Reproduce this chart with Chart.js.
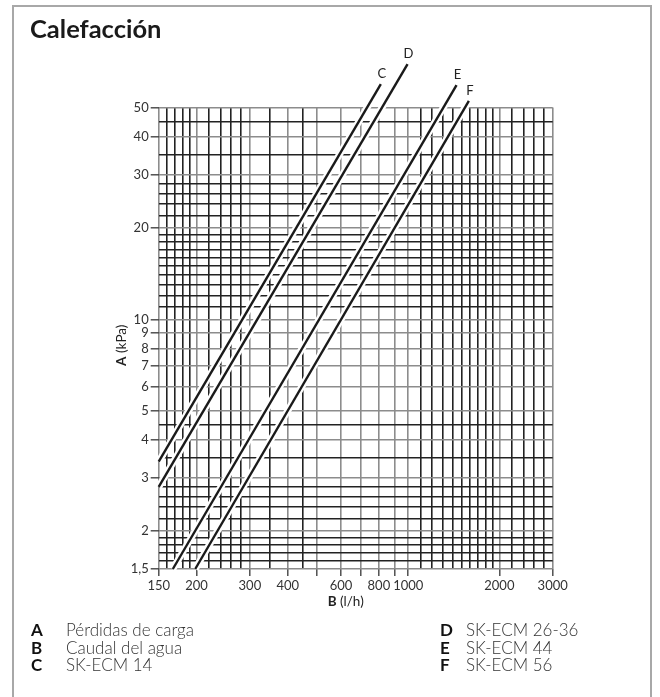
<!DOCTYPE html>
<html>
<head>
<meta charset="utf-8">
<script src="https://cdn.jsdelivr.net/npm/chart.js@4.4.1/dist/chart.umd.min.js"></script>
<style>
html, body { margin: 0; padding: 0; background: #fff; }
#wrap { position: relative; width: 660px; height: 697px; overflow: hidden; }
#frame { position: absolute; left: 12px; top: 5px; width: 640px; height: 740px; border: 2px solid #a8a8a8; box-sizing: border-box; }
#title { position: absolute; left: 30px; top: 13px; font: bold 25.5px Lato, sans-serif; color: #1a1a1a; }
#box { position: absolute; left: 0; top: 0; width: 660px; height: 697px; }
.key { position: absolute; font: bold 17px Lato, sans-serif; color: #111; }
.txt { position: absolute; font: 300 17px Lato, sans-serif; color: #333; }
</style>
</head>
<body>
<div id="wrap">
  <div id="frame"></div>
  <div id="box"><canvas id="chart"></canvas></div>
  <div id="title">Calefacción</div>
  <div id="legend"></div>
</div>
<script>
// caudal (l/h) y pérdida de carga (kPa) en los extremos de cada recta
const flowC = [150, 812]
const lossC = [3.39, 59.7]
const flowD = [150, 995]
const lossD = [2.80, 69.5]
const flowE = [167, 1444]
const lossE = [1.5, 59.3]
const flowF = [198, 1586]
const lossF = [1.5, 52.6]

const curves = [
    {name: 'C', flow: flowC, loss: lossC},
    {name: 'D', flow: flowD, loss: lossD},
    {name: 'E', flow: flowE, loss: lossE},
    {name: 'F', flow: flowF, loss: lossF}
]

const gridX = [150, 160, 170, 180, 190, 200, 220, 240, 260, 280, 300, 350, 400, 450, 500, 600, 700, 800, 900,
    1000, 1100, 1200, 1300, 1400, 1500, 1600, 1700, 1800, 1900, 2000, 2200, 2400, 2600, 2800, 3000]
const tickX = [150, 200, 300, 400, 500, 600, 700, 800, 900, 1000, 2000, 3000]
const labelX = [150, 200, 300, 400, 600, 800, 1000, 2000, 3000]

const gridY = [1.5, 1.6, 1.7, 1.8, 1.9, 2, 2.2, 2.4, 2.6, 2.8, 3, 3.5, 4, 4.5, 5, 6, 7, 8, 9,
    10, 11, 12, 13, 14, 15, 16, 17, 18, 19, 20, 22, 24, 26, 28, 30, 35, 40, 45, 50]
const labelY = [1.5, 2, 3, 4, 5, 6, 7, 8, 9, 10, 20, 30, 40, 50]
const labelYText = ['1,5', '2', '3', '4', '5', '6', '7', '8', '9', '10', '20', '30', '40', '50']

const legendKeys = ['A', 'B', 'C', 'D', 'E', 'F']
const legendTexts = ['Pérdidas de carga', 'Caudal del agua', 'SK-ECM 14', 'SK-ECM 26-36', 'SK-ECM 44', 'SK-ECM 56']

// leyenda en dos columnas
const legend = document.getElementById('legend')
legendKeys.forEach((k, i) => {
    const col = Math.floor(i / 3)
    const row = i % 3
    const top = 619 + row * 17.5
    const key = document.createElement('div')
    key.className = 'key'
    key.style.left = (col ? 440 : 31) + 'px'
    key.style.top = top + 'px'
    key.textContent = k
    const txt = document.createElement('div')
    txt.className = 'txt'
    txt.style.left = (col ? 466 : 66) + 'px'
    txt.style.top = top + 'px'
    txt.textContent = legendTexts[i]
    legend.appendChild(key)
    legend.appendChild(txt)
})

const gridColor = function (list) {
    return (c) => {
        if (!c.tick) return '#8c8c8c'
        return list.includes(c.tick.value) ? '#8c8c8c' : '#222'
    }
}

const annotations = {
    id: 'annotations',
    afterDraw(chart) {
        const {ctx, scales: {x, y}, chartArea} = chart
        ctx.save()
        ctx.fillStyle = '#222'
        ctx.font = '13px Lato'
        ctx.textAlign = 'center'
        ctx.textBaseline = 'middle'
        curves.forEach(c => {
            const n = c.flow.length - 1
            ctx.fillText(c.name, x.getPixelForValue(c.flow[n]) + 1, y.getPixelForValue(c.loss[n]) - 10)
        })

        // títulos de los ejes, letra en negrita
        const drawTitle = function (bold, rest, cx, cy) {
            ctx.font = 'bold 13.5px Lato'
            const w1 = ctx.measureText(bold).width
            ctx.font = '13.5px Lato'
            const w2 = ctx.measureText(rest).width
            let start = cx - (w1 + w2) / 2
            ctx.textAlign = 'left'
            ctx.font = 'bold 13.5px Lato'
            ctx.fillText(bold, start, cy)
            ctx.font = '13.5px Lato'
            ctx.fillText(rest, start + w1, cy)
        }
        drawTitle('B', ' (l/h)', (chartArea.left + chartArea.right) / 2 - 10, chartArea.bottom + 33)
        ctx.save()
        ctx.translate(chartArea.left - 37, (chartArea.top + chartArea.bottom) / 2 + 7)
        ctx.rotate(-Math.PI / 2)
        drawTitle('A', ' (kPa)', 0, 0)
        ctx.restore()
        ctx.restore()
    }
}

const datasets = []
curves.forEach(c => {
    const pts = c.flow.map((f, i) => ({x: f, y: c.loss[i]}))
    datasets.push({
        label: c.name + '-halo', data: pts, borderColor: '#fff', borderWidth: 7,
        pointRadius: 0, clip: false, order: 2
    })
    datasets.push({
        label: c.name, data: pts, borderColor: '#1a1a1a', borderWidth: 2.4,
        pointRadius: 0, clip: false, order: 1
    })
})

const ctx = document.getElementById('chart').getContext('2d')
const chart = new Chart(ctx, {
    type: 'line',
    data: {datasets: datasets},
    options: {
        responsive: true,
        maintainAspectRatio: false,
        animation: false,
        events: [],
        layout: {
            padding: {left: 108.7, right: 107.3, top: 107.5, bottom: 98}
        },
        plugins: {
            legend: {display: false},
            tooltip: {enabled: false}
        },
        scales: {
            x: {
                type: 'logarithmic',
                min: 150,
                max: 3000,
                afterBuildTicks: s => { s.ticks = gridX.map(v => ({value: v})) },
                afterFit: s => { s.height = 30 },
                border: {display: false},
                grid: {
                    color: gridColor(tickX),
                    lineWidth: 1.6,
                    tickLength: 7,
                    tickWidth: 1.4,
                    tickColor: c => (c.tick && tickX.includes(c.tick.value)) ? '#444' : 'rgba(0,0,0,0)'
                },
                ticks: {
                    autoSkip: false,
                    maxRotation: 0,
                    padding: 2,
                    color: '#333',
                    font: {family: 'Lato', size: 13},
                    callback: v => labelX.includes(v) ? String(v) : ''
                }
            },
            y: {
                type: 'logarithmic',
                min: 1.5,
                max: 50,
                afterBuildTicks: s => { s.ticks = gridY.map(v => ({value: v})) },
                afterFit: s => { s.width = 50 },
                border: {display: false},
                grid: {
                    color: gridColor(labelY),
                    lineWidth: 1.6,
                    tickLength: 8,
                    tickWidth: 1.4,
                    tickColor: c => (c.tick && labelY.includes(c.tick.value)) ? '#444' : 'rgba(0,0,0,0)'
                },
                ticks: {
                    autoSkip: false,
                    padding: 2,
                    color: '#333',
                    font: {family: 'Lato', size: 13},
                    callback: v => {
                        const i = labelY.indexOf(v)
                        return i >= 0 ? labelYText[i] : ''
                    }
                }
            }
        }
    },
    plugins: [annotations]
})
</script>
</body>
</html>
